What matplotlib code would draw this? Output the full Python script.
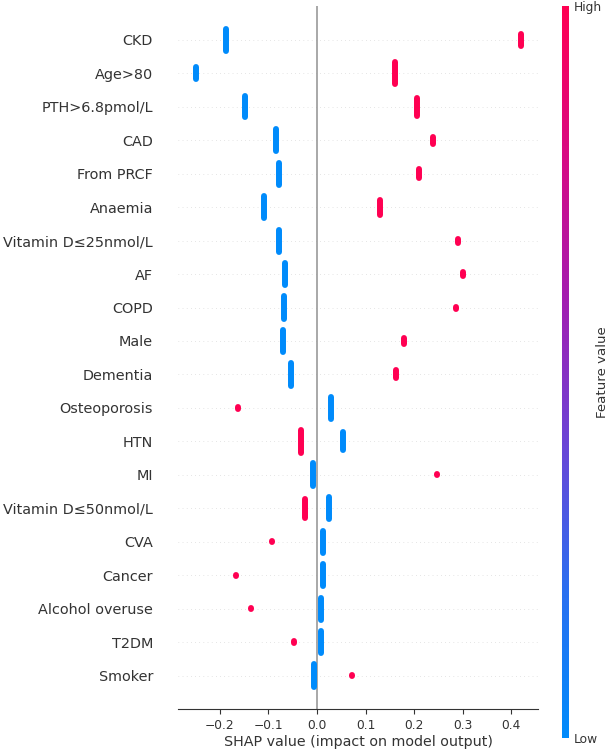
"""
SHAP summary plot: binary risk factors, low (blue) vs high (red) feature value
"""
import numpy as np
import matplotlib
matplotlib.use('Agg')
import matplotlib.pyplot as plt
from matplotlib.colors import LinearSegmentedColormap
from matplotlib.cm import ScalarMappable

# ============================================================
# DATA
# ============================================================
features = ['CKD', 'Age>80', 'PTH>6.8pmol/L', 'CAD', 'From PRCF', 'Anaemia',
            'Vitamin D≤25nmol/L', 'AF', 'COPD', 'Male', 'Dementia', 'Osteoporosis',
            'HTN', 'MI', 'Vitamin D≤50nmol/L', 'CVA', 'Cancer', 'Alcohol overuse',
            'T2DM', 'Smoker']
# SHAP value of the low (=0) group and the high (=1) group
low_shap = [-0.188, -0.250, -0.149, -0.084, -0.078, -0.110, -0.078, -0.066, -0.067, -0.070,
            -0.054, 0.029, 0.053, -0.008, 0.025, 0.012, 0.013, 0.009, 0.008, -0.006]
high_shap = [0.420, 0.160, 0.206, 0.238, 0.210, 0.130, 0.291, 0.300, 0.286, 0.180,
             0.163, -0.162, -0.032, 0.248, -0.025, -0.093, -0.167, -0.136, -0.047, 0.073]
# half height of the stacked swarm (row units) ~ group size
low_spread = [0.42, 0.27, 0.40, 0.42, 0.42, 0.42, 0.42, 0.42, 0.42, 0.42,
              0.42, 0.43, 0.36, 0.43, 0.42, 0.42, 0.42, 0.42, 0.42, 0.42]
high_spread = [0.28, 0.42, 0.36, 0.19, 0.22, 0.31, 0.15, 0.15, 0.12, 0.19,
               0.21, 0.12, 0.43, 0.09, 0.37, 0.10, 0.075, 0.09, 0.12, 0.09]
xticks = [-0.2, -0.1, 0.0, 0.1, 0.2, 0.3, 0.4]

# ============================================================
# FIGURE
# ============================================================
RED = '#ff0052'
BLUE = '#008bfb'
AXIS = '#333333'
cmap = LinearSegmentedColormap.from_list(
    'red_blue', ['#008bfb', '#2a6ff0', '#6a45d6', '#a31cb0', '#d80a82', '#ff0052'])

fig = plt.figure(figsize=(6.12, 7.49), dpi=100)
ax = fig.add_axes([0.291, 0.0534, 0.588, 0.938])

n = len(features)
ypos = np.arange(n)[::-1]
lw = 4.3
row_px = 0.938 * 749 / (n + 1)
cap = (lw / 72 * 100 / 2) / row_px  # round cap length in row units

for y in ypos:
    ax.axhline(y=y, color='#cccccc', lw=0.5, dashes=(1, 5), zorder=-1)
ax.axvline(0, color='#999999', lw=1.2, zorder=-1)

lo_h = np.maximum(np.array(low_spread) - cap, 0.02)
hi_h = np.maximum(np.array(high_spread) - cap, 0.02)
ax.vlines(low_shap, ypos - lo_h, ypos + lo_h, colors=BLUE, lw=lw, capstyle='round', zorder=3)
ax.vlines(high_shap, ypos - hi_h, ypos + hi_h, colors=RED, lw=lw, capstyle='round', zorder=3)

ax.set_xlim(-0.286, 0.455)
ax.set_ylim(-1, n)
ax.set_yticks(ypos)
ax.set_yticklabels(features, fontsize=10.4, color=AXIS)
ax.set_xticks(xticks)
ax.set_xticklabels([f'{t:.1f}'.replace('-', '\u2212') for t in xticks], fontsize=8.8)
ax.tick_params('y', length=0, pad=18)
ax.tick_params('x', color=AXIS, labelcolor=AXIS)
for s in ['top', 'right', 'left']:
    ax.spines[s].set_visible(False)
ax.spines['bottom'].set_color(AXIS)
ax.set_xlabel('SHAP value (impact on model output)', fontsize=10.3, color=AXIS, labelpad=2)

# colorbar
cax = fig.add_axes([0.918, 0.0147, 0.0114, 0.977])
sm = ScalarMappable(cmap=cmap)
sm.set_array([0, 1])
cb = fig.colorbar(sm, cax=cax, ticks=[0, 1])
cb.set_ticklabels(['Low', 'High'])
cb.ax.tick_params(labelsize=8.8, length=0, labelcolor=AXIS)
cb.set_label('Feature value', size=9.6, labelpad=-4, color=AXIS)
cb.outline.set_visible(False)

plt.savefig('out.png', dpi=100)
plt.close()
